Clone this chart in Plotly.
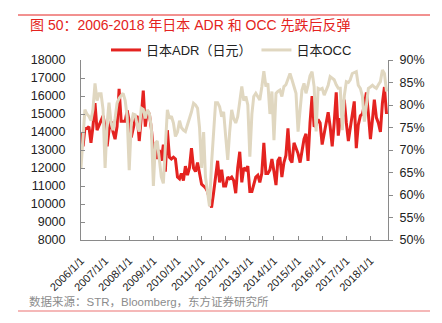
import pandas as pd
import plotly.graph_objects as go

# Japan hotel ADR (JPY), monthly, 2006/1 - 2018/9
adr_2006 = [14000, 13200, 14200, 14200, 14300, 13400, 14300, 15600, 14100, 14400, 14600, 14900]
adr_2007 = [14300, 13200, 14100, 14600, 14000, 13600, 14300, 16400, 14600, 14600, 14600, 15200]
adr_2008 = [14600, 13700, 14200, 14700, 14900, 13500, 14800, 16300, 14300, 15200, 15000, 14200]
adr_2009 = [13000, 13400, 12500, 13000, 12400, 13300, 11800, 14100, 12600, 12500, 12600, 12500]
adr_2010 = [11500, 11400, 11700, 11300, 12100, 11600, 12000, 13100, 12000, 11800, 12300, 11800]
adr_2011 = [11100, 11000, 10900, 10700, 10200, 9800, 10600, 11500, 12400, 11200, 11900, 11000]
adr_2012 = [11000, 11500, 11400, 11500, 11300, 10600, 12000, 12900, 11200, 12000, 11900, 12100]
adr_2013 = [10700, 10700, 11100, 11500, 11600, 11200, 11700, 13400, 11700, 11700, 11900, 12500]
adr_2014 = [11800, 11050, 12400, 12600, 11500, 12300, 12700, 14200, 12500, 12300, 13400, 13100]
adr_2015 = [12800, 12300, 13000, 13600, 13900, 12400, 14500, 16000, 14300, 14400, 14700, 14500]
adr_2016 = [13300, 14000, 14500, 15100, 14300, 13200, 14500, 16200, 13800, 14700, 14700, 15800]
adr_2017 = [14500, 13500, 14200, 15000, 15700, 13100, 14400, 14900, 15000, 15500, 16200, 15000]
adr_2018 = [13600, 14700, 15800, 14800, 14500, 14000, 15600, 16500, 15000]

# Japan hotel occupancy (%), monthly, 2006/1 - 2018/9
occ_2006 = [66, 74, 79, 78, 77.5, 76.5, 79, 84.8, 81, 82.5, 82.5, 79]
occ_2007 = [66, 76, 80.5, 76, 74.4, 77, 80.4, 81.5, 82, 82.6, 81, 77.4]
occ_2008 = [65.5, 75.9, 78, 77.8, 75.5, 74.1, 79.3, 79, 77, 78.9, 78.1, 75.2]
occ_2009 = [62, 71.5, 72, 68, 64, 62.6, 71, 78.9, 77, 77.5, 76, 73]
occ_2010 = [74, 76.5, 75, 74.4, 74.1, 75.5, 77, 78.5, 80.4, 80, 79.3, 75]
occ_2011 = [66, 74, 64, 60, 57.5, 67, 75, 80.5, 80.5, 79.6, 77.4, 78.5]
occ_2012 = [73, 67.8, 74, 78.9, 77, 76, 77.4, 81, 84.1, 81, 81.9, 80]
occ_2013 = [68.5, 78, 81.9, 82.6, 82, 81.1, 84, 87.5, 84.1, 84.8, 78, 83]
occ_2014 = [72.2, 82.6, 83, 83.3, 81.9, 84.1, 84.5, 85.6, 87, 85.6, 84.1, 82.6]
occ_2015 = [74.1, 80, 83.3, 84.8, 82.6, 84.4, 86.5, 87.4, 84.1, 74.1, 83.7, 83.5]
occ_2016 = [83.7, 82.2, 83.5, 84.4, 86.3, 86, 85.6, 84.5, 83.7, 83.7, 74.4, 82]
occ_2017 = [85.2, 85, 85.6, 87, 87.2, 87.4, 84.4, 83.7, 82, 76.3, 80, 83.7]
occ_2018 = [84, 84.4, 84, 83.7, 84.5, 85.2, 87.8, 87, 83]

years = list(range(2006, 2019))
tick_labels = [f"{y}/1/1" for y in years]

adr = (adr_2006 + adr_2007 + adr_2008 + adr_2009 + adr_2010 + adr_2011 + adr_2012
       + adr_2013 + adr_2014 + adr_2015 + adr_2016 + adr_2017 + adr_2018)
occ = (occ_2006 + occ_2007 + occ_2008 + occ_2009 + occ_2010 + occ_2011 + occ_2012
       + occ_2013 + occ_2014 + occ_2015 + occ_2016 + occ_2017 + occ_2018)
months = pd.date_range("2006-01-01", periods=len(adr), freq="MS")

RED = "#e42320"
BEIGE = "#e0d7c0"
AXIS = "#8a8a8a"
FONT = "Liberation Sans, Arial, Noto Sans CJK SC, sans-serif"

W, H = 442, 323
L, R, T, B = 81, 54, 60, 83
PW, PH = W - L - R, H - T - B


def px(x):
    return (x - L) / PW


def py(y):
    return (T + PH - y) / PH


fig = go.Figure()
fig.add_trace(go.Scatter(x=months, y=adr, name="日本ADR（日元）", mode="lines",
                         line=dict(color=RED, width=3), yaxis="y"))
fig.add_trace(go.Scatter(x=months, y=occ, name="日本OCC", mode="lines",
                         line=dict(color=BEIGE, width=3), yaxis="y2"))

fig.update_layout(
    width=W, height=H,
    margin=dict(l=L, r=R, t=T, b=B),
    paper_bgcolor="white", plot_bgcolor="white",
    font=dict(family=FONT, size=12, color="#222"),
    showlegend=True,
    legend=dict(orientation="h", x=px(106), y=py(50), xanchor="left", yanchor="middle",
                font=dict(size=13, color="#222"), bgcolor="rgba(0,0,0,0)",
                itemwidth=30, tracegroupgap=0),
    xaxis=dict(type="date", range=["2006-01-01", "2018-09-24"],
               tickvals=[f"{y}-01-01" for y in years], ticktext=tick_labels,
               tickangle=-45, ticks="inside", ticklen=4, tickcolor=AXIS,
               showline=True, linecolor=AXIS, linewidth=1, showgrid=False,
               zeroline=False, tickfont=dict(size=11), ticklabelstandoff=9),
    yaxis=dict(range=[8000, 18000], dtick=1000, tickformat="d", ticks="inside", ticklen=4,
               tickcolor=AXIS, showline=True, linecolor=AXIS, linewidth=1,
               showgrid=False, zeroline=False, tickfont=dict(size=12.5),
               ticklabelstandoff=12),
    yaxis2=dict(range=[50, 90], dtick=5, ticksuffix="%", overlaying="y", side="right",
                ticks="outside", ticklen=4, tickcolor=AXIS, showline=True,
                linecolor=AXIS, linewidth=1, showgrid=False, zeroline=False,
                tickfont=dict(size=12.5), ticklabelstandoff=4),
)

fig.add_annotation(text="图 50：2006-2018 年日本 ADR 和 OCC 先跌后反弹",
                   xref="paper", yref="paper", x=px(28), y=py(25),
                   xanchor="left", yanchor="middle", showarrow=False,
                   font=dict(family="Liberation Sans, Noto Sans CJK SC", size=14, color=RED))
fig.add_annotation(text="数据来源：STR，Bloomberg，东方证券研究所",
                   xref="paper", yref="paper", x=px(27), y=py(301),
                   xanchor="left", yanchor="middle", showarrow=False,
                   font=dict(family="Liberation Sans, Noto Sans CJK SC", size=11.5, color="#8c8c8c"))
fig.add_shape(type="line", xref="paper", yref="paper", x0=px(18), x1=px(430),
              y0=py(15), y1=py(15), line=dict(color=RED, width=1))
fig.add_shape(type="line", xref="paper", yref="paper", x0=px(18), x1=px(430),
              y0=py(311), y1=py(311), line=dict(color="#f2a0a0", width=1.5))

fig.write_html("out.html")
